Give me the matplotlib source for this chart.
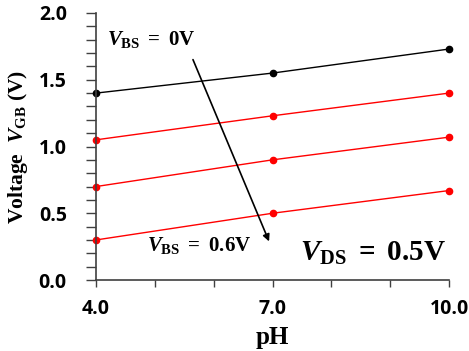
import matplotlib
matplotlib.use("Agg")
import matplotlib.pyplot as plt
from matplotlib.ticker import MultipleLocator, FixedLocator

ph = [4.0, 7.0, 10.0]
v_bs0 = [1.40, 1.55, 1.73]
v_bs02 = [1.05, 1.23, 1.40]
v_bs04 = [0.70, 0.90, 1.07]
v_bs06 = [0.30, 0.50, 0.67]
xtick_labels = ["4.0", "7.0", "10.0"]

plt.rcParams['mathtext.fontset'] = 'custom'
plt.rcParams['mathtext.rm'] = 'Liberation Serif:bold'
plt.rcParams['mathtext.it'] = 'Liberation Serif:italic:bold'
plt.rcParams['mathtext.bf'] = 'Liberation Serif:bold'

fig = plt.figure(figsize=(4.69, 3.51), dpi=100)
ax = fig.add_axes([96/469, 1-280/351, (449-96)/469, (280-13)/351])

ax.plot(ph, v_bs0, color='black', lw=1, marker='o', ms=4.5)
for s in (v_bs02, v_bs04, v_bs06):
    ax.plot(ph, s, color='red', lw=1, marker='o', ms=4.5)
for l in ax.lines:
    l.set_clip_on(False)

ax.set_xlim(4, 10)
ax.set_ylim(0, 2.0)
ax.xaxis.set_major_locator(FixedLocator([4, 7, 10]))
ax.set_xticklabels(xtick_labels)
ax.xaxis.set_minor_locator(MultipleLocator(1))
ax.yaxis.set_major_locator(MultipleLocator(0.5))
ax.yaxis.set_minor_locator(MultipleLocator(0.1))
for s in ('top', 'right'):
    ax.spines[s].set_visible(False)
for s in ('left', 'bottom'):
    ax.spines[s].set_color('#404040')
    ax.spines[s].set_linewidth(1.2)
ax.tick_params(axis='y', which='both', direction='out', length=7, width=1, color='#404040', pad=14)
ax.tick_params(axis='x', which='both', direction='out', length=5, width=1, color='#404040', pad=9)
for lab in ax.get_xticklabels() + ax.get_yticklabels():
    lab.set_fontfamily('Open Sans')
    lab.set_fontweight('bold')
    lab.set_fontsize(14)

ax.set_xlabel('pH', fontfamily='Liberation Serif', fontweight='bold', fontsize=18, labelpad=5)
ax.set_ylabel(r'Voltage  $V_{\mathrm{GB}}$ (V)', fontfamily='Liberation Serif', fontweight='bold', fontsize=15.5, labelpad=6)

ax.text(4.19, 1.80, r'$V_{\mathrm{BS}}\ \mathrm{=\ 0V}$', fontsize=15, va='center', ha='left')
ax.text(4.87, 0.26, r'$V_{\mathrm{BS}}\ \mathrm{=\ 0.6V}$', fontsize=15, va='center', ha='left')
ax.text(9.95, 0.20, r'$V_{\mathrm{DS}}\ \mathrm{=\ 0.5V}$', fontsize=21, va='center', ha='right')
ax.annotate('', xy=(6.96, 0.27), xytext=(5.63, 1.67),
            arrowprops=dict(arrowstyle='-|>', color='black', lw=1.2, mutation_scale=10))

fig.savefig('out.png', dpi=100)
